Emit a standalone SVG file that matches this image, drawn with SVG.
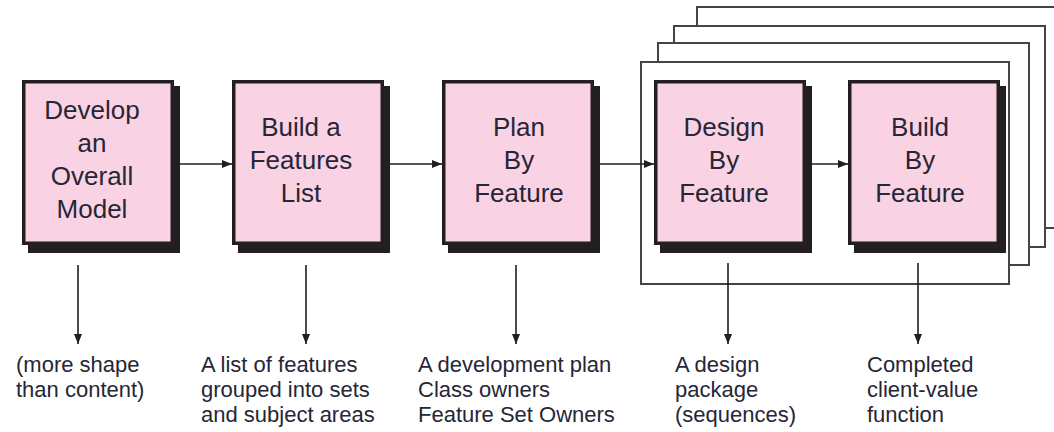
<svg xmlns="http://www.w3.org/2000/svg" width="1054" height="432" viewBox="0 0 1054 432">
  <defs>
    <marker id="head" viewBox="0 0 10 8" refX="10" refY="4" markerWidth="10" markerHeight="8" markerUnits="userSpaceOnUse" orient="auto">
      <path d="M0,0 L10,4 L0,8 Z" fill="#231f20"/>
    </marker>
    <style>
      .frame { fill: #ffffff; stroke: #444444; stroke-width: 2; }
      .shadow { fill: #231f20; }
      .box { fill: #f9d2e3; stroke: #231f20; stroke-width: 3.5; }
      .label { font-family: "Liberation Sans", Arial, sans-serif; font-size: 26px; fill: #262636; text-anchor: middle; }
      .out { font-family: "Liberation Sans", Arial, sans-serif; font-size: 22px; fill: #262636; }
      .conn { stroke: #231f20; stroke-width: 1.6; fill: none; marker-end: url(#head); }
    </style>
  </defs>

  <rect width="1054" height="432" fill="#ffffff"/>

  <!-- stacked iteration frames, back to front -->
  <g id="iteration-stack">
    <rect class="frame" x="697" y="7" width="400" height="221"/>
    <rect class="frame" x="674" y="26" width="371" height="221"/>
    <rect class="frame" x="658" y="43" width="371" height="222"/>
    <rect class="frame" x="641" y="62" width="368" height="222"/>
  </g>

  <g id="develop-model">
    <rect class="shadow" x="28" y="86" width="152" height="167"/>
    <rect class="box" x="23.75" y="81.75" width="148.5" height="161.5"/>
    <text class="label" x="92" y="119">Develop</text>
    <text class="label" x="92" y="152">an</text>
    <text class="label" x="92" y="185">Overall</text>
    <text class="label" x="92" y="218">Model</text>
  </g>

  <g id="build-features-list">
    <rect class="shadow" x="238" y="86" width="152" height="167"/>
    <rect class="box" x="233.75" y="81.75" width="148.5" height="161.5"/>
    <text class="label" x="301" y="136">Build a</text>
    <text class="label" x="301" y="169">Features</text>
    <text class="label" x="301" y="202">List</text>
  </g>

  <g id="plan-by-feature">
    <rect class="shadow" x="448" y="86" width="152" height="167"/>
    <rect class="box" x="443.75" y="81.75" width="148.5" height="161.5"/>
    <text class="label" x="519" y="136">Plan</text>
    <text class="label" x="519" y="169">By</text>
    <text class="label" x="519" y="202">Feature</text>
  </g>

  <g id="design-by-feature">
    <rect class="shadow" x="660" y="86" width="152" height="167"/>
    <rect class="box" x="655.75" y="81.75" width="148.5" height="161.5"/>
    <text class="label" x="724" y="136">Design</text>
    <text class="label" x="724" y="169">By</text>
    <text class="label" x="724" y="202">Feature</text>
  </g>

  <g id="build-by-feature">
    <rect class="shadow" x="854" y="86" width="152" height="167"/>
    <rect class="box" x="849.75" y="81.75" width="148.5" height="161.5"/>
    <text class="label" x="920" y="136">Build</text>
    <text class="label" x="920" y="169">By</text>
    <text class="label" x="920" y="202">Feature</text>
  </g>

  <g id="connectors">
    <line class="conn" x1="180" y1="164" x2="232" y2="164"/>
    <line class="conn" x1="390" y1="164" x2="442" y2="164"/>
    <line class="conn" x1="600" y1="164" x2="654" y2="164"/>
    <line class="conn" x1="812" y1="164" x2="848" y2="164"/>
    <line class="conn" x1="78" y1="265" x2="78" y2="344"/>
    <line class="conn" x1="306" y1="265" x2="306" y2="344"/>
    <line class="conn" x1="516" y1="265" x2="516" y2="344"/>
    <line class="conn" x1="728" y1="263" x2="728" y2="344"/>
    <line class="conn" x1="918" y1="263" x2="918" y2="344"/>
  </g>

  <g id="outputs">
    <text class="out" x="16" y="372">(more shape</text>
    <text class="out" x="16" y="397">than content)</text>
    <text class="out" x="201" y="372">A list of features</text>
    <text class="out" x="201" y="397">grouped into sets</text>
    <text class="out" x="201" y="422">and subject areas</text>
    <text class="out" x="418" y="372">A development plan</text>
    <text class="out" x="418" y="397">Class owners</text>
    <text class="out" x="418" y="422">Feature Set Owners</text>
    <text class="out" x="675" y="372">A design</text>
    <text class="out" x="675" y="397">package</text>
    <text class="out" x="675" y="422">(sequences)</text>
    <text class="out" x="867" y="372">Completed</text>
    <text class="out" x="867" y="397">client-value</text>
    <text class="out" x="867" y="422">function</text>
  </g>
</svg>
